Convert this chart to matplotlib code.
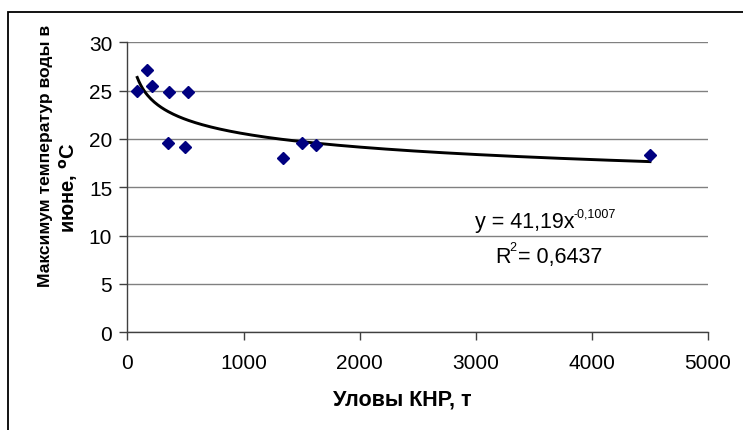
import numpy as np
import matplotlib
matplotlib.use("Agg")
import matplotlib.pyplot as plt
from matplotlib.patches import Rectangle

# Data
catch_t = [84, 171, 211, 357, 518, 346, 492, 1342, 1503, 1623, 4500]
max_temp = [25.0, 27.1, 25.5, 24.9, 24.9, 19.6, 19.2, 18.0, 19.6, 19.4, 18.3]

# Power trendline coefficients (from chart label)
coef_a = 41.19
coef_b = -0.1007
eq_base = "y = 41,19x"
eq_exp = "-0,1007"
r_squared_label = "= 0,6437"

x_ticks = [0, 1000, 2000, 3000, 4000, 5000]
y_ticks = [0, 5, 10, 15, 20, 25, 30]

plt.rcParams['font.family'] = ['Liberation Sans', 'DejaVu Sans']

W, H = 743, 431
fig = plt.figure(figsize=(W / 100, H / 100), dpi=100)

def fx(px):
    return px / W

def fy(py):
    return 1 - py / H

# Outer chart border (right and bottom run off the image)
fig.patches.append(Rectangle((fx(8), -0.1), 1.2, (H - 12.5) / H + 0.1,
                             transform=fig.transFigure, fill=False,
                             edgecolor='black', linewidth=1.3))

left, right, top, bottom = 127.5, 708, 43.3, 333.3
ax = fig.add_axes([fx(left), fy(bottom), (right - left) / W, (bottom - top) / H])

ax.set_xlim(0, 5000)
ax.set_ylim(0, 30)
ax.set_xticks(x_ticks)
ax.set_yticks(y_ticks)
ax.yaxis.grid(True, color='#808080', linewidth=1.0)
ax.set_axisbelow(True)
for s in ['top', 'right']:
    ax.spines[s].set_visible(False)
for s in ['left', 'bottom']:
    ax.spines[s].set_color('#404040')
    ax.spines[s].set_linewidth(1.0)
ax.tick_params(axis='both', direction='out', length=6, width=1.0, color='#404040',
               labelsize=15, pad=5)
ax.tick_params(axis='x', pad=9)

xs = np.linspace(min(catch_t), max(catch_t), 300)
ax.plot(xs, coef_a * xs ** coef_b, color='black', linewidth=2.1, zorder=3)
ax.plot(catch_t, max_temp, linestyle='none', marker='D', markersize=6.5,
        color='#000080', zorder=4, clip_on=False)

# Trendline equation
fig.text(fx(475), fy(228), eq_base, fontsize=15.5, ha='left', va='baseline')
fig.text(fx(574), fy(218), eq_exp, fontsize=9, ha='left', va='baseline')
fig.text(fx(495), fy(263), "R", fontsize=15.5, ha='left', va='baseline')
fig.text(fx(509.5), fy(251), "2", fontsize=9, ha='left', va='baseline')
fig.text(fx(518), fy(263), r_squared_label, fontsize=15.5, ha='left', va='baseline')

# Axis titles
fig.text(fx(402), fy(406), "Уловы КНР, т", fontsize=15.5, fontweight='bold',
         ha='center', va='baseline')
fig.text(fx(46), fy(156), "Максимум температур воды в", fontsize=12.6,
         fontweight='bold', rotation=90, ha='center', va='center')
fig.text(fx(69), fy(188), "июне, $^{\\mathbf{o}}$C", fontsize=14.5,
         fontweight='bold', rotation=90, ha='center', va='center')

fig.savefig("out.png", dpi=100)
